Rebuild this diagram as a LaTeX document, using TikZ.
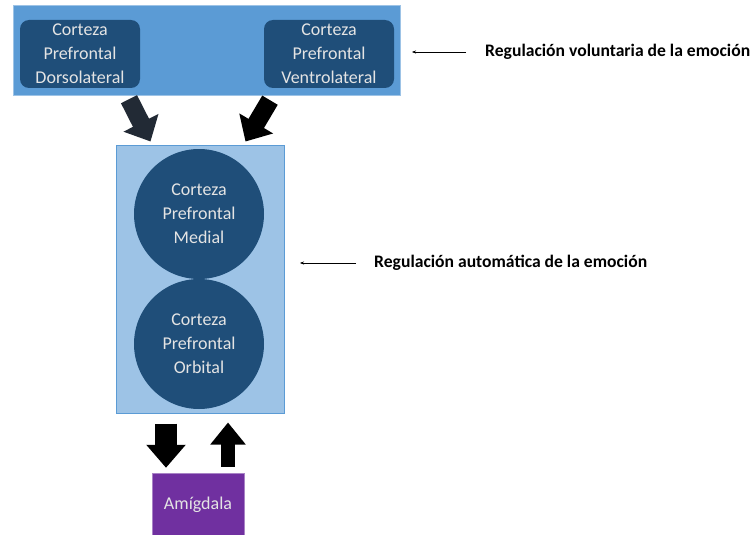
\documentclass[tikz,border=0pt]{standalone}
\usepackage{fontspec}
\setmainfont{Carlito}
\usetikzlibrary{arrows.meta}

\definecolor{volBlue}{HTML}{5B9BD5}
\definecolor{autoBlue}{HTML}{9DC3E6}
\definecolor{darkBlue}{HTML}{1F4E79}
\definecolor{amygPurple}{HTML}{7030A0}
\definecolor{arrowNavy}{HTML}{222A35}
\definecolor{softWhite}{HTML}{E4E4E4}

\tikzstyle{levelBox} = [rectangle, minimum width=387pt, minimum height=90pt, fill=volBlue, draw=volBlue!60!white, line width=1pt]
\tikzstyle{autoBox} = [rectangle, minimum width=168pt, minimum height=268pt, fill=autoBlue, draw=volBlue, line width=1pt]
\tikzstyle{capNode} = [rectangle, rounded corners=9pt, minimum height=68pt, inner sep=0pt, text centered, align=center, fill=darkBlue, text=softWhite, font=\fontsize{18pt}{24pt}\selectfont]
\tikzstyle{cNode} = [circle, minimum size=130pt, inner sep=0pt, text centered, align=center, fill=darkBlue, text=softWhite, font=\fontsize{18pt}{24pt}\selectfont]
\tikzstyle{amygNode} = [rectangle, minimum width=92pt, minimum height=64pt, fill=amygPurple, draw=amygPurple!60!white, text=softWhite, font=\fontsize{18pt}{24pt}\selectfont]
\tikzstyle{noteNode} = [anchor=west, inner sep=0pt, font=\fontsize{17.6pt}{22pt}\selectfont\bfseries]
\tikzstyle{bigArrow} = [line width=18pt, -{Triangle[width=38pt,length=21pt]}]
\tikzstyle{arrow} = [thin,-{Stealth[length=4pt,width=3pt]}]

\begin{document}
\begin{tikzpicture}[x=1pt,y=-1pt,node distance=130pt]
    \useasboundingbox (0,0) rectangle (756,535);

    % niveles
    \node (voluntaria)[levelBox] at (206.5,51) {};
    \node (dorso)[capNode, minimum width=120pt] at (80,54) {Corteza\\Prefrontal\\Dorsolateral};
    \node (ventro)[capNode, minimum width=130pt] at (329,54) {Corteza\\Prefrontal\\Ventrolateral};

    \node (automatica)[autoBox] at (200,279) {};
    \node (medial)[cNode] at (199,214) {Corteza\\Prefrontal\\Medial};
    \node (orbital)[cNode, below of=medial] {Corteza\\Prefrontal\\Orbital};

    \node (amigdala)[amygNode] at (198,505) {Amígdala};

    % etiquetas
    \node (labVol)[noteNode] at (485,52) {Regulación voluntaria de la emoción};
    \node (labAuto)[noteNode] at (374,263) {Regulación automática de la emoción};
    \coordinate (volTip) at (412,52);
    \coordinate (autoTip) at (300,263);

    \draw [bigArrow, arrowNavy] ([shift={(49,11)}]dorso.south) -- ([shift={(35,-3)}]automatica.north west);
    \draw [bigArrow, black] ([shift={(-59,12)}]ventro.south) -- ([shift={(-39,-3)}]automatica.north east);
    \draw [line width=22pt, -{Triangle[width=38pt,length=23pt]}] ([shift={(-34,10)}]automatica.south) -- ([shift={(-32,-5)}]amigdala.north);
    \draw [line width=14pt, -{Triangle[width=34pt,length=22pt]}] ([shift={(30,-6)}]amigdala.north) -- ([shift={(28,9)}]automatica.south);

    \draw [arrow] ([xshift=-19pt]labVol.west) -- (volTip);
    \draw [arrow] ([xshift=-18pt]labAuto.west) -- (autoTip);

\end{tikzpicture}
\end{document}
